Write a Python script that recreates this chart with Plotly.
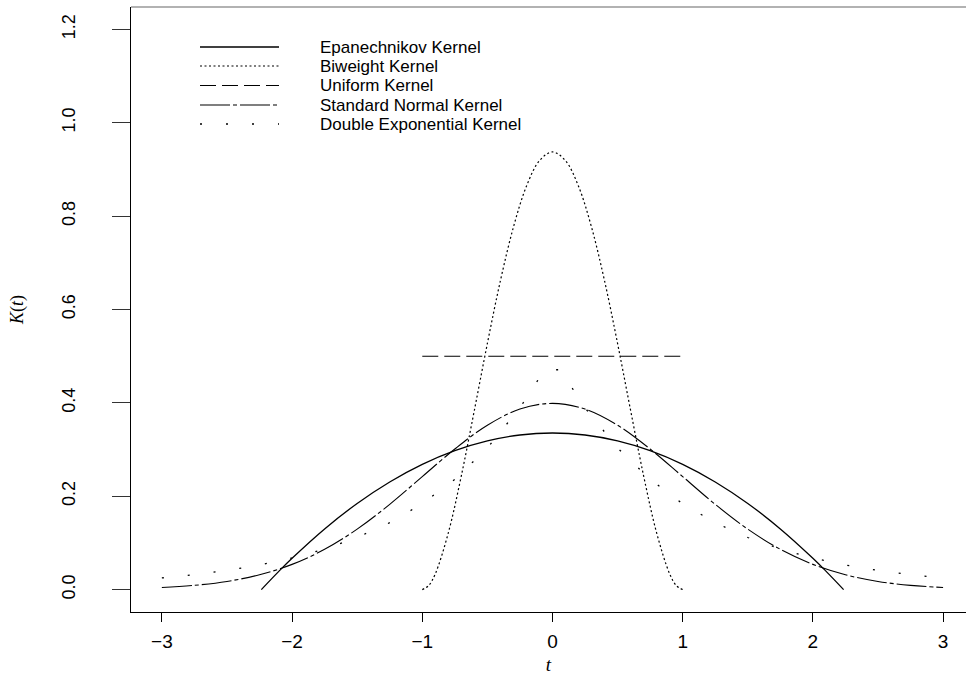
import plotly.graph_objects as go

# ---- kernel values K(t) ----
epa_t = [-2.236, -2.1, -2.0, -1.75, -1.5, -1.25, -1.0, -0.75, -0.5, -0.25, 0.0,
         0.25, 0.5, 0.75, 1.0, 1.25, 1.5, 1.75, 2.0, 2.1, 2.236]
epa_k = [0.0, 0.0396, 0.0671, 0.1300, 0.1845, 0.2306, 0.2683, 0.2977, 0.3186, 0.3312, 0.3354,
         0.3312, 0.3186, 0.2977, 0.2683, 0.2306, 0.1845, 0.1300, 0.0671, 0.0396, 0.0]

biw_t = [-1.0, -0.95, -0.9, -0.8, -0.7, -0.6, -0.5, -0.4, -0.3, -0.2, -0.1, 0.0,
         0.1, 0.2, 0.3, 0.4, 0.5, 0.6, 0.7, 0.8, 0.9, 0.95, 1.0]
biw_k = [0.0, 0.0089, 0.0338, 0.1215, 0.2438, 0.3840, 0.5273, 0.6615, 0.7763, 0.8640, 0.9188, 0.9375,
         0.9188, 0.8640, 0.7763, 0.6615, 0.5273, 0.3840, 0.2438, 0.1215, 0.0338, 0.0089, 0.0]

uni_t = [-1.0, 1.0]
uni_k = [0.5, 0.5]

nor_t = [-3.0, -2.75, -2.5, -2.25, -2.0, -1.75, -1.5, -1.25, -1.0, -0.75, -0.5, -0.25, 0.0,
         0.25, 0.5, 0.75, 1.0, 1.25, 1.5, 1.75, 2.0, 2.25, 2.5, 2.75, 3.0]
nor_k = [0.0044, 0.0091, 0.0175, 0.0317, 0.0540, 0.0863, 0.1295, 0.1826, 0.2420, 0.3011, 0.3521, 0.3867, 0.3989,
         0.3867, 0.3521, 0.3011, 0.2420, 0.1826, 0.1295, 0.0863, 0.0540, 0.0317, 0.0175, 0.0091, 0.0044]

dex_t = [-3.0, -2.75, -2.5, -2.25, -2.0, -1.75, -1.5, -1.25, -1.0, -0.75, -0.5, -0.25, -0.06,
         0.06, 0.25, 0.5, 0.75, 1.0, 1.25, 1.5, 1.75, 2.0, 2.25, 2.5, 2.75, 3.0]
dex_k = [0.0249, 0.0320, 0.0410, 0.0527, 0.0677, 0.0869, 0.1116, 0.1433, 0.1839, 0.2362, 0.3033, 0.3894, 0.4709,
         0.4709, 0.3894, 0.3033, 0.2362, 0.1839, 0.1433, 0.1116, 0.0869, 0.0677, 0.0527, 0.0410, 0.0320, 0.0249]

names = ["Epanechnikov Kernel", "Biweight Kernel", "Uniform Kernel",
         "Standard Normal Kernel", "Double Exponential Kernel"]

x_ticks = [-3, -2, -1, 0, 1, 2, 3]
x_labels = ["\u22123", "\u22122", "\u22121", "0", "1", "2", "3"]
y_ticks = [0.0, 0.2, 0.4, 0.6, 0.8, 1.0, 1.2]
y_labels = ["0.0", "0.2", "0.4", "0.6", "0.8", "1.0", "1.2"]

# line styles: solid, dotted, dashed, dash-dot, sparse dots
styles = [
    dict(dash="solid", width=1.3),
    dict(dash="2px,2.5px", width=1.2),
    dict(dash="16px,6px", width=1.1),
    dict(dash="30px,3px,4px,3px", width=1.1),
    dict(dash="2px,24px", width=1.3),
]
series = [(epa_t, epa_k, "spline"), (biw_t, biw_k, "spline"), (uni_t, uni_k, "linear"),
          (nor_t, nor_k, "spline"), (dex_t, dex_k, "linear")]

fig = go.Figure()
for (t, k, shape), st, nm in zip(series, styles, names):
    fig.add_trace(go.Scatter(x=t, y=k, mode="lines", name=nm, showlegend=False,
                             line=dict(color="black", shape=shape, **st)))

W, H = 966, 675
L, R, T, B = 131, 0, 7, 63
pw, ph = W - L - R, H - T - B


def px(x):
    return (x - L) / pw


def py(y):
    return (H - B - y) / ph


# legend drawn as sample lines and labels
row_y = [47, 66, 85.5, 105, 124]
for yy, st, nm in zip(row_y, styles, names):
    fig.add_shape(type="line", xref="paper", yref="paper",
                  x0=px(200), x1=px(279), y0=py(yy), y1=py(yy),
                  line=dict(color="black", **st))
    fig.add_annotation(xref="paper", yref="paper", x=px(319), y=py(yy),
                       text=nm, showarrow=False, xanchor="left", yanchor="middle", borderpad=0,
                       font=dict(family="Liberation Sans, Arial, sans-serif", size=17, color="black"))

# top border of the plot box
fig.add_shape(type="line", xref="paper", yref="paper", x0=0, x1=1, y0=1, y1=1,
              line=dict(color="#666666", width=1.2))

fig.update_layout(
    width=W, height=H,
    margin=dict(l=L, r=R, t=T, b=B, pad=0),
    paper_bgcolor="white", plot_bgcolor="white",
    xaxis=dict(range=[-3.237, 3.176], tickvals=x_ticks, ticktext=x_labels,
               showgrid=False, zeroline=False, showline=True, linecolor="black", linewidth=1.2,
               ticks="outside", ticklen=9, tickcolor="black", tickwidth=1.2,
               ticklabelstandoff=3,
               tickfont=dict(family="Liberation Sans, Arial, sans-serif", size=19, color="black"),
               title=dict(text="<i>t</i>", standoff=6,
                          font=dict(family="Liberation Serif, DejaVu Serif, serif", size=19, color="black"))),
    yaxis=dict(range=[-0.048, 1.248], tickvals=y_ticks, ticktext=y_labels,
               showgrid=False, zeroline=False, showline=True, linecolor="black", linewidth=1.2,
               ticks="outside", ticklen=18, tickcolor="#333333", tickwidth=1.2,
               tickangle=-90, ticklabelstandoff=30,
               tickfont=dict(family="Liberation Sans Narrow, Liberation Sans, Arial, sans-serif", size=18, color="black"),
               title=dict(text="<i>K</i>(<i>t</i>)", standoff=30,
                          font=dict(family="Liberation Serif, DejaVu Serif, serif", size=18, color="black"))),
)

fig.write_html("out.html")
